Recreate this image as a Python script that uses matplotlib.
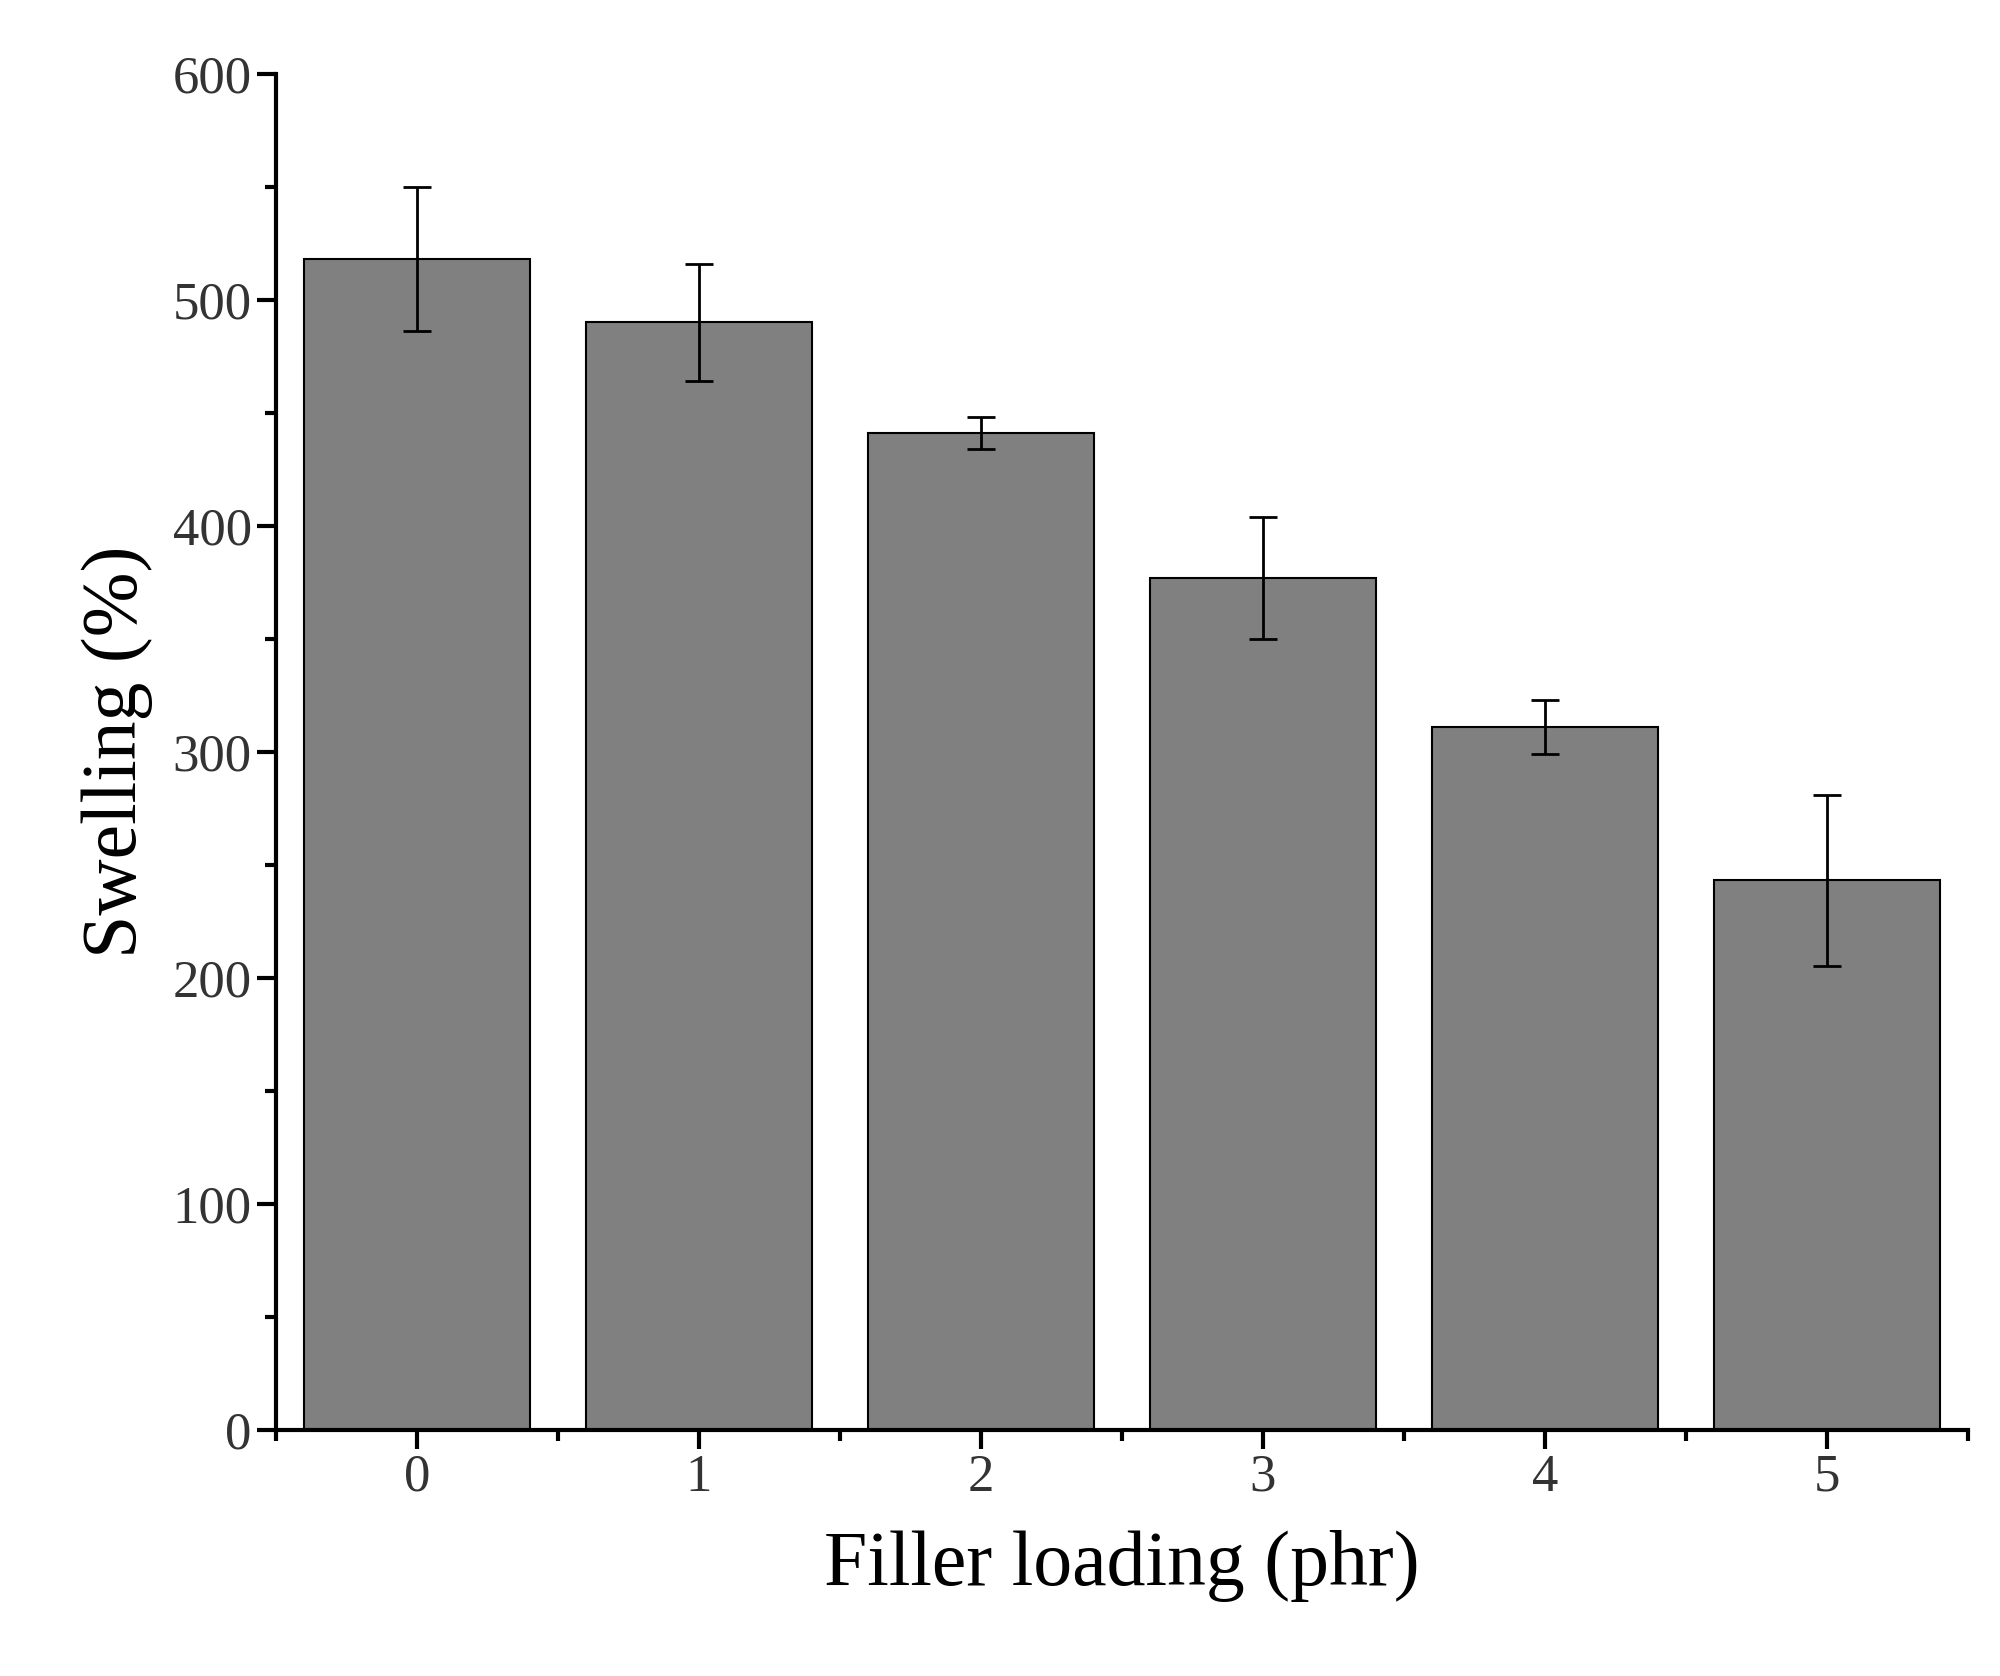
import matplotlib.pyplot as plt
from matplotlib.ticker import MultipleLocator

# data
loading = [0, 1, 2, 3, 4, 5]
swelling = [518, 490, 441, 377, 311, 243]
err = [32, 26, 7, 27, 12, 38]

plt.rcParams['font.family'] = ['Liberation Serif', 'DejaVu Serif']

fig = plt.figure(figsize=(20, 16.76), dpi=100)
ax = fig.add_axes([0.138, 0.147, 0.846, 0.809])

ax.bar(loading, swelling, width=0.8, color='#808080', edgecolor='black', linewidth=1.5,
       yerr=err, error_kw=dict(ecolor='black', elinewidth=2, capsize=10, capthick=2))

ax.set_xlim(-0.5, 5.5)
ax.set_ylim(0, 600)
ax.yaxis.set_major_locator(MultipleLocator(100))
ax.yaxis.set_minor_locator(MultipleLocator(50))
ax.xaxis.set_major_locator(MultipleLocator(1))
ax.xaxis.set_minor_locator(MultipleLocator(0.5))

for s in ['top', 'right']:
    ax.spines[s].set_visible(False)
for s in ['left', 'bottom']:
    ax.spines[s].set_linewidth(3)

ax.tick_params(which='major', direction='out', length=14, width=3, labelsize=38, colors='black')
ax.tick_params(which='minor', direction='out', length=8, width=3)
for lbl in ax.get_xticklabels() + ax.get_yticklabels():
    lbl.set_color('#333333')

ax.set_xlabel('Filler loading (phr)', fontsize=56, labelpad=20)
ax.set_ylabel('Swelling (%)', fontsize=56, labelpad=14)

plt.savefig('out.png')
